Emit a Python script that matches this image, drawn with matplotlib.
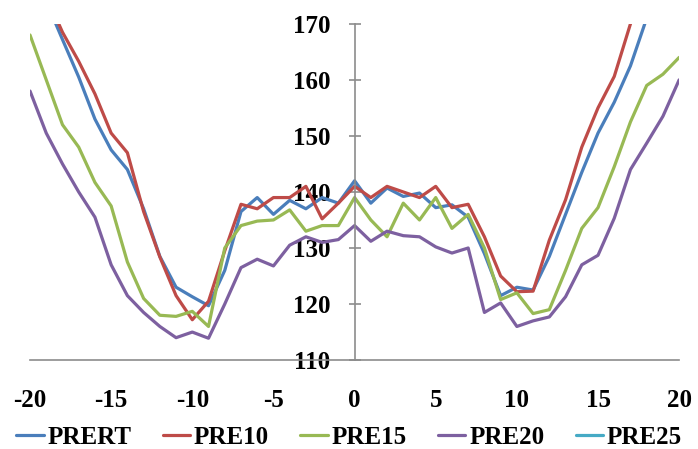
import matplotlib
matplotlib.use('Agg')
import matplotlib.pyplot as plt

x = list(range(-20, 21))

prert = [180, 174, 167.2, 160.5, 153, 147.5, 144, 137, 128.5, 123, 121.3,
         119.7, 126, 136.5, 139, 136, 138.5, 137, 139, 138, 142,
         138, 140.7, 139.2, 139.8, 137.2, 137.7, 135.5, 129, 121.5, 123,
         122.5, 128.5, 136, 143.5, 150.5, 156, 162.5, 171, 176, 181]
pre10 = [181, 175, 168.5, 163.3, 157.5, 150.5, 147, 136.5, 128.4, 121.5, 117.2,
         120.5, 129.5, 137.8, 137, 139, 139, 141, 135.2, 138, 141,
         139, 141, 140, 139, 141, 137.2, 137.8, 132, 125, 122.2,
         122.3, 131.4, 138.6, 148, 155, 160.6, 170, 178, 186, 193]
pre15 = [168, 160, 152, 148, 141.7, 137.5, 127.5, 121, 118, 117.8, 118.7,
         116, 130, 134, 134.8, 135, 136.8, 133, 134, 134, 139,
         135, 132, 138, 135, 139, 133.5, 136, 130, 120.8, 122,
         118.3, 119, 126, 133.5, 137.2, 144.5, 152.5, 159, 161, 164]
pre20 = [158, 150.5, 145, 140, 135.5, 127, 121.5, 118.5, 116, 114, 115,
         113.9, 120, 126.5, 128, 126.8, 130.5, 132, 131, 131.5, 134,
         131.2, 133, 132.2, 132, 130.2, 129.1, 130, 118.5, 120.2, 116,
         117, 117.7, 121.3, 127, 128.7, 135.3, 144, 148.7, 153.5, 160]
pre25 = []

names = ['PRERT', 'PRE10', 'PRE15', 'PRE20', 'PRE25']
colors = ['#4A7EBB', '#BE4B48', '#98B954', '#7D60A0', '#46AAC5']

plt.rcParams['font.family'] = ['Liberation Serif', 'DejaVu Serif']
plt.rcParams['font.weight'] = 'bold'
plt.rcParams['axes.unicode_minus'] = False

fig = plt.figure(figsize=(6.98, 4.49), dpi=100)
ax = fig.add_axes([0.043, 0.198, 0.930, 0.749])

series = [prert, pre10, pre15, pre20, pre25]
for ys, name, c in zip(series, names, colors):
    xs = x[:len(ys)]
    ax.plot(xs, ys, color=c, lw=2.3, label=name, solid_joinstyle='round',
            solid_capstyle='round')

ax.set_xlim(-20, 20)
ax.set_ylim(110, 170)
ax.set_xticks(range(-20, 21, 5))
ax.set_yticks(range(110, 171, 10))

ax.spines['left'].set_position(('data', 0))
ax.spines['right'].set_visible(False)
ax.spines['top'].set_visible(False)
for s in ['left', 'bottom']:
    ax.spines[s].set_color('#8c8c8c')
    ax.spines[s].set_linewidth(1.2)

ax.tick_params(axis='y', direction='inout', length=9, width=1.2, color='#8c8c8c',
               labelsize=18, pad=13)
ax.tick_params(axis='x', length=0, labelsize=18, pad=21)

fig.legend(loc='lower center', bbox_to_anchor=(0.5, -0.05), ncol=5, frameon=False,
           fontsize=18, handlelength=1.1, handletextpad=0.15, columnspacing=1.25)

fig.savefig('out.png', dpi=100)
